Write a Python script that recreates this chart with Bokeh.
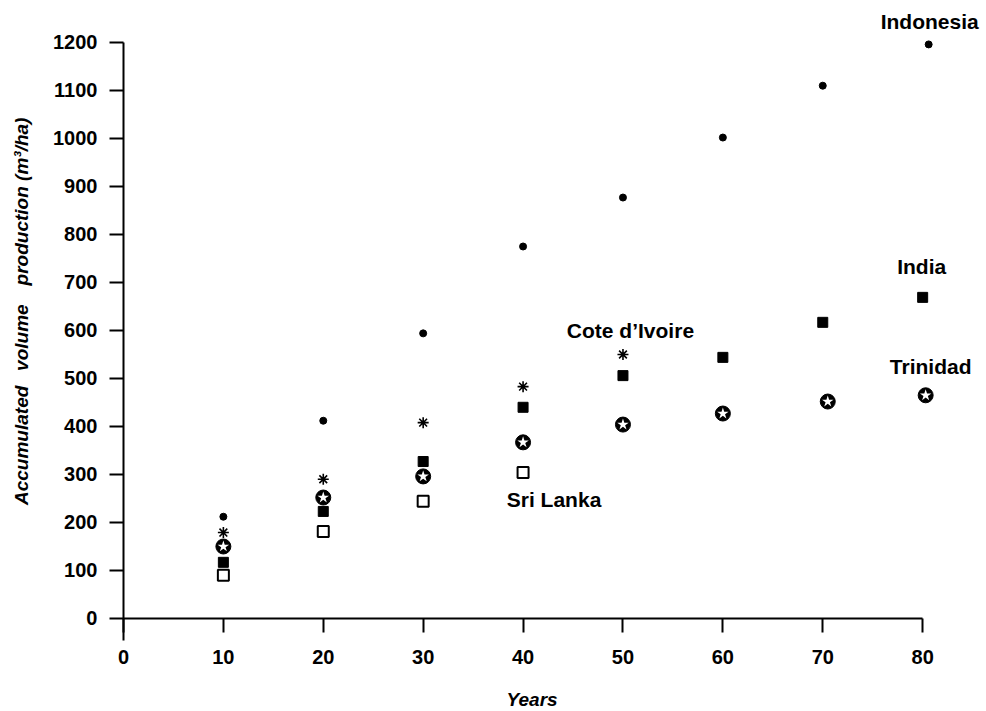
from bokeh.plotting import figure
from bokeh.models import Range1d, Label, FixedTicker
from bokeh.embed import file_html
from bokeh.resources import INLINE
import math

# ---- data ----
indonesia_x = [10, 20, 30, 40, 50, 60, 70, 80.6]
indonesia_y = [212, 412, 594, 775, 877, 1002, 1110, 1196]

india_x = [10, 20, 30, 40, 50, 60, 70, 80]
india_y = [117, 223, 327, 440, 506, 544, 617, 669]

trinidad_x = [10, 20, 30, 40, 50, 60, 70.5, 80.3]
trinidad_y = [150, 252, 296, 367, 404, 427, 452, 465]

srilanka_x = [10, 20, 30, 40]
srilanka_y = [90, 181, 244, 304]

cote_x = [10, 20, 30, 40, 50]
cote_y = [179, 290, 408, 483, 550]

x_ticks = [0, 10, 20, 30, 40, 50, 60, 70, 80]
y_ticks = [0, 100, 200, 300, 400, 500, 600, 700, 800, 900, 1000, 1100, 1200]

series_labels = ["Indonesia", "India", "Cote d\u2019Ivoire", "Trinidad", "Sri Lanka"]
label_x = [80.7, 79.9, 50.75, 80.8, 43.1]
label_y = [1244, 733, 600, 525, 248]

FONT = "Liberation Sans"

p = figure(width=985, height=710,
           x_range=Range1d(-12.31, 86.29), y_range=Range1d(-191.7, 1287.5),
           output_backend="svg", toolbar_location=None,
           min_border_left=0, min_border_right=0,
           min_border_top=0, min_border_bottom=0)
p.outline_line_color = None
p.xgrid.grid_line_color = None
p.ygrid.grid_line_color = None
p.background_fill_color = "white"
p.border_fill_color = "white"

for ax in (p.xaxis, p.yaxis):
    ax.axis_line_width = 2
    ax.axis_line_color = "black"
    ax.major_tick_line_width = 2
    ax.major_tick_line_color = "black"
    ax.major_tick_in = 0
    ax.major_tick_out = 14
    ax.minor_tick_line_color = None
    ax.major_label_text_font = FONT
    ax.major_label_text_font_size = "20px"
    ax.major_label_text_font_style = "bold"
    ax.major_label_text_color = "black"

p.xaxis.fixed_location = 0
p.xaxis.bounds = (0, 80)
p.xaxis.ticker = FixedTicker(ticks=x_ticks)
p.xaxis.major_label_standoff = 18
p.yaxis.fixed_location = 0
p.yaxis.bounds = (-45, 1200)
p.yaxis.ticker = FixedTicker(ticks=y_ticks)
p.yaxis.major_label_standoff = 12

# markers
p.scatter(srilanka_x, srilanka_y, marker="square", size=11, fill_color="white",
          line_color="black", line_width=2)
p.scatter(india_x, india_y, marker="square", size=10, fill_color="black",
          line_color="black")
p.scatter(trinidad_x, trinidad_y, marker="circle", size=15, fill_color="black",
          line_color="black")
p.scatter(trinidad_x, trinidad_y, marker="star", size=12, fill_color="white",
          line_color=None)
p.scatter(cote_x, cote_y, marker="asterisk", size=11, line_color="black",
          line_width=1.6)
p.scatter(indonesia_x, indonesia_y, marker="circle", size=7, fill_color="black",
          line_color="black")

for t, x, y in zip(series_labels, label_x, label_y):
    p.add_layout(Label(x=x, y=y, text=t, text_font=FONT, text_font_size="21px",
                       text_font_style="bold", text_align="center",
                       text_baseline="middle", text_color="black"))

p.add_layout(Label(x=40.9, y=-169, text="Years", text_font=FONT,
                   text_font_size="19px", text_font_style="bold italic",
                   text_align="center", text_baseline="middle",
                   text_color="black"))
p.add_layout(Label(x=-10.2, y=640,
                   text="Accumulated\u2002 volume\u2003production (m\u00b3/ha)",
                   text_font=FONT, text_font_size="19px",
                   text_font_style="bold italic", angle=math.pi / 2,
                   text_align="center", text_baseline="middle",
                   text_color="black"))

open("out.html", "w").write(file_html(p, INLINE))
